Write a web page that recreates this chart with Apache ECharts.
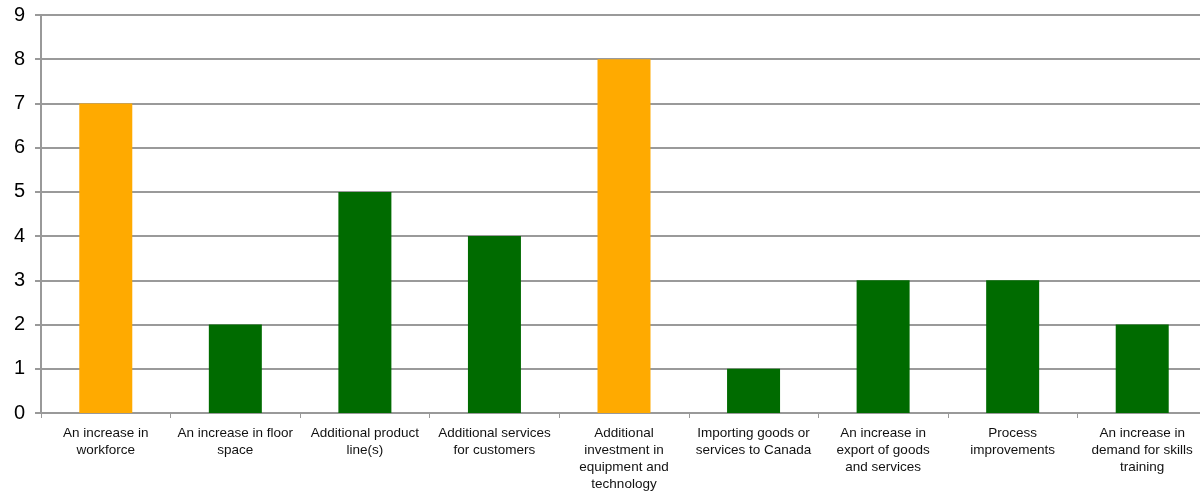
<!DOCTYPE html>
<html>
<head>
<meta charset="utf-8">
<script src="https://cdn.jsdelivr.net/npm/echarts@6/dist/echarts.min.js"></script>
<style>
  html, body { margin: 0; padding: 0; background: #ffffff; overflow: hidden; }
  #chart { width: 1210px; height: 494px; }
</style>
</head>
<body>
<div id="chart"></div>
<script>
// Reported business outcomes (number of responses)
const categories = [
  'An increase in\nworkforce',
  'An increase in floor\nspace',
  'Additional product\nline(s)',
  'Additional services\nfor customers',
  'Additional\ninvestment in\nequipment and\ntechnology',
  'Importing goods or\nservices to Canada',
  'An increase in\nexport of goods\nand services',
  'Process\nimprovements',
  'An increase in\ndemand for skills\ntraining'
];
const responses = [7, 2, 5, 4, 8, 1, 3, 3, 2];
const yTicks = [0, 1, 2, 3, 4, 5, 6, 7, 8, 9];

const ORANGE = '#FFAA00';
const GREEN = '#006B00';

// The plot runs slightly past the right edge of the visible page
const chart = echarts.init(document.getElementById('chart'), null, { renderer: 'canvas' });
chart.setOption({
  animation: false,
  backgroundColor: '#ffffff',
  grid: { left: 41, top: 15, right: 3, bottom: 81, containLabel: false },
  xAxis: {
    type: 'category',
    data: categories,
    boundaryGap: true,
    axisLine: { show: true, lineStyle: { color: '#999999', width: 2 } },
    axisTick: { show: true, alignWithLabel: false, length: 5, lineStyle: { color: '#999999', width: 1 } },
    axisLabel: {
      interval: 0,
      color: '#111111',
      fontFamily: 'Liberation Sans, Arial, sans-serif',
      fontSize: 13.5,
      lineHeight: 17,
      margin: 12,
      align: 'center'
    }
  },
  yAxis: {
    type: 'value',
    min: yTicks[0],
    max: yTicks[yTicks.length - 1],
    interval: 1,
    axisLine: { show: true, lineStyle: { color: '#999999', width: 2 } },
    axisTick: { show: true, length: 6, lineStyle: { color: '#999999', width: 2 } },
    splitLine: { show: true, lineStyle: { color: '#9a9a9a', width: 2 } },
    axisLabel: {
      color: '#000000',
      fontFamily: 'Liberation Sans, Arial, sans-serif',
      fontSize: 20,
      margin: 16
    }
  },
  series: [{
    type: 'bar',
    data: responses,
    barWidth: 53,
    itemStyle: {
      color: p => (p.value >= 7 ? ORANGE : GREEN)
    }
  }]
});
</script>
</body>
</html>
